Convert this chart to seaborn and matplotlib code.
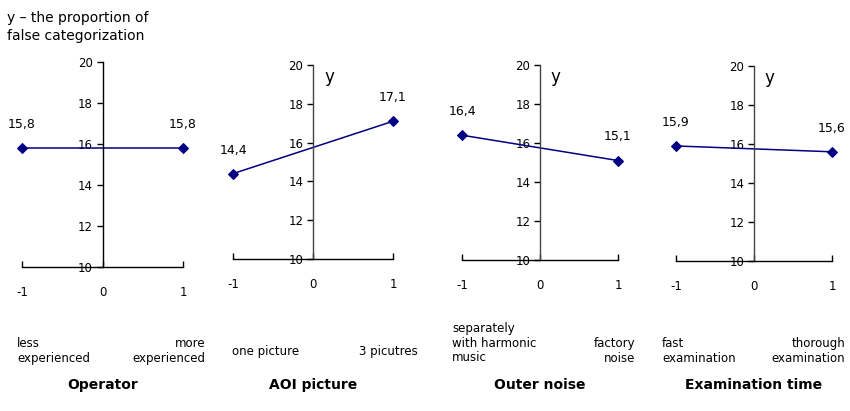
import matplotlib
matplotlib.use("Agg")
import matplotlib.pyplot as plt
import seaborn as sns

# data
levels = [-1, 1]
factors = ["Operator", "AOI picture", "Outer noise", "Examination time"]
y_operator = [15.8, 15.8]
y_aoi = [14.4, 17.1]
y_noise = [16.4, 15.1]
y_time = [15.9, 15.6]
low_labels = ["less\nexperienced", "one picture", "separately\nwith harmonic\nmusic", "fast\nexamination"]
high_labels = ["more\nexperienced", "3 picutres", "factory\nnoise", "thorough\nexamination"]
value_text = [["15,8", "15,8"], ["14,4", "17,1"], ["16,4", "15,1"], ["15,9", "15,6"]]
y_ticks = [10, 12, 14, 16, 18, 20]
x_ticks = [-1, 0, 1]

sns.set_style("white")
plt.rcParams["font.family"] = ["DejaVu Sans"]
plt.rcParams["text.color"] = "black"
plt.rcParams["xtick.color"] = "black"
plt.rcParams["ytick.color"] = "black"

W, H = 850, 411
fig = plt.figure(figsize=(W / 100, H / 100), dpi=100)

# pixel placement of each panel: x(-1), x(1), y(20), y(10)
boxes = [(22, 183, 62, 267), (233, 393, 65, 259), (462, 618, 65, 260), (676, 832, 66, 261)]
low_pos = [(17, 351), (232, 352), (452, 343), (662, 351)]
high_pos = [(205, 351), (418, 352), (635, 351), (845, 351)]

series = [y_operator, y_aoi, y_noise, y_time]

for i, (vals, box) in enumerate(zip(series, boxes)):
    x0, x1, yt, yb = box
    ax = fig.add_axes([x0 / W, 1 - yb / H, (x1 - x0) / W, (yb - yt) / H])
    sns.lineplot(x=levels, y=vals, ax=ax, color="#000080", marker="D",
                 markersize=5, markeredgecolor="#000080", linewidth=1.1,
                 clip_on=False)
    ax.set_xlim(-1, 1)
    ax.set_ylim(10, 20)
    ax.set_xticks(x_ticks)
    ax.set_yticks(y_ticks)
    ax.set_xticklabels(["-1", "0", "1"])
    ax.spines["top"].set_visible(False)
    ax.spines["right"].set_visible(False)
    ax.spines["left"].set_position(("data", 0))
    ax.spines["bottom"].set_position(("data", 10))
    ax.spines["left"].set_color("#444444" if i else "black")
    ax.spines["bottom"].set_color("black")
    for sp in ("left", "bottom"):
        ax.spines[sp].set_linewidth(1.0)
    ax.tick_params(axis="x", bottom=True, direction="in", length=4, width=1,
                   pad=14, labelsize=8.5)
    ax.tick_params(axis="y", left=True, direction="out", length=4, width=1,
                   pad=3, labelsize=8.5)
    ax.set_xlabel("")
    ax.set_ylabel("")
    ax.patch.set_alpha(0)

    for xv, yv, txt in zip(levels, vals, value_text[i]):
        ax.annotate(txt, (xv, yv), xytext=(0, 17), textcoords="offset points",
                    ha="center", va="center", fontsize=9)

    if i > 0:
        ax.text(0.6, 0.94, "y", transform=ax.transAxes, ha="center", va="center", fontsize=12)

    fig.text(low_pos[i][0] / W, 1 - low_pos[i][1] / H, low_labels[i],
             ha="left", va="center", fontsize=8.5, linespacing=1.15)
    fig.text(high_pos[i][0] / W, 1 - high_pos[i][1] / H, high_labels[i],
             ha="right", va="center", fontsize=8.5, linespacing=1.15,
             multialignment="right")
    fig.text(((x0 + x1) / 2) / W, 1 - 385 / H, factors[i], ha="center", va="center",
             fontsize=10, fontweight="bold")

fig.text(7 / W, 1 - 27 / H, "y – the proportion of\nfalse categorization",
         ha="left", va="center", fontsize=10, linespacing=1.3)

fig.savefig("out.png", dpi=100)
